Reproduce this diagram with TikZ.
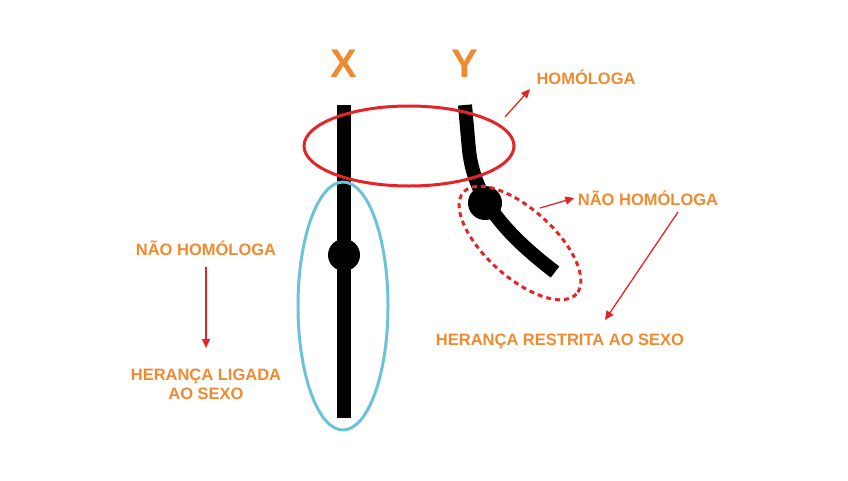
\documentclass[tikz,border=0pt]{standalone}
\usepackage{fontspec}
\setmainfont{Liberation Sans}
\usetikzlibrary{arrows.meta}
\definecolor{lab}{HTML}{F08A30}
\definecolor{rd}{HTML}{E42528}
\definecolor{bl}{HTML}{6CC3D9}
\begin{document}
\begin{tikzpicture}[x=1pt,y=-1pt,>={Triangle[length=9pt,width=8pt]},
                    lbl/.style = {text = lab, font = \bfseries\fontsize{16.5}{19}\selectfont, align = center},
                    chrom/.style = {line width = 14pt, black},
                    arr/.style = {->, rd, line width = 1.3pt}
                   ]
   \useasboundingbox (0,0) rectangle (848,480);

   % chromosomes
   \draw[chrom] (344,105) -- (344,418);
   \draw[chrom] (465,105) -- (469,150) .. controls (474,195) and (500,230) .. (555,272);
   \fill (344,255) circle (16);
   \fill (485,203) circle (17);

   % ellipses
   \draw[rd, line width = 3pt] (409,146) ellipse (105 and 40);
   \draw[bl, line width = 3pt] (343,306) ellipse (45 and 124);
   \draw[rd, line width = 3pt, dash pattern = on 5pt off 4pt, rotate around = {-42:(520,243)}] (520,243) ellipse (76 and 34);

   % labels
   \node[lbl, font = \bfseries\fontsize{40}{42}\selectfont] (x) at (344,64) {X};
   \node[lbl, font = \bfseries\fontsize{40}{42}\selectfont] (y) at (465,64) {Y};
   \node[lbl] (hom) at (586,77) {HOMÓLOGA};
   \node[lbl] (nhy) at (648,198) {NÃO HOMÓLOGA};
   \node[lbl] (nhx) at (206,248) {NÃO HOMÓLOGA};
   \node[lbl] (lig) at (206,384) {HERANÇA LIGADA\\AO SEXO};
   \node[lbl] (res) at (560,341) {HERANÇA RESTRITA AO SEXO};

   \coordinate (a1) at (505,117);
   \coordinate (a2) at (540,208);
   \coordinate (a3) at (678,212);

   % arrows
   \draw[arr] (a1) -- (530,89);
   \draw[arr] (a2) -- (nhy.west);
   \draw[arr] (nhx.south) ++(0,8) -- (206,348);
   \draw[arr] (a3) -- (605,320);
\end{tikzpicture}
\end{document}
